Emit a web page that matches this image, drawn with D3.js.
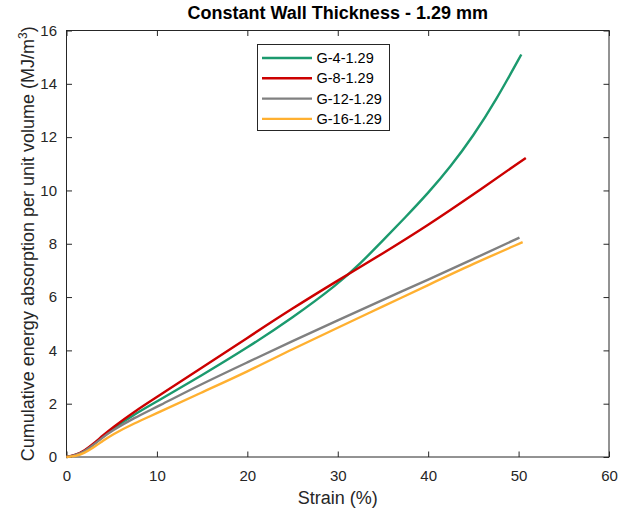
<!DOCTYPE html>
<html>
<head>
<meta charset="utf-8">
<script src="https://cdn.jsdelivr.net/npm/d3@7"></script>
<style>
  body { margin: 0; background: #fff; }
  text { font-family: "Liberation Sans", Arial, sans-serif; }
</style>
</head>
<body>
<div id="chart"></div>
<script>
// series names and colours
const seriesNames = ["G-4-1.29", "G-8-1.29", "G-12-1.29", "G-16-1.29"];
const seriesColors = ["#1b9a6e", "#cc0000", "#808080", "#ffb030"];

// [strain %, energy MJ/m^3]
const g4 = [[0,0],[1,0.06],[2,0.22],[3,0.48],[4,0.76],[5,1.03],[7.5,1.6],[10,2.08],[15,3.07],[20,4.1],[25,5.22],[30,6.48],[32.5,7.26],[35,8.12],[37.5,9.0],[40,9.9],[42.5,10.9],[45,12.05],[47.5,13.38],[50.3,15.1]];
const g8 = [[0,0],[1,0.07],[2,0.24],[3,0.5],[4,0.8],[5,1.08],[7.5,1.7],[10,2.25],[15,3.35],[20,4.47],[25,5.58],[30,6.62],[35,7.64],[40,8.7],[45,9.85],[50.8,11.22]];
const g12 = [[0,0],[1,0.06],[2,0.21],[3,0.46],[4,0.73],[5,0.98],[7.5,1.47],[10,1.88],[15,2.75],[20,3.55],[25,4.35],[30,5.13],[35,5.9],[40,6.65],[45,7.43],[50.1,8.23]];
const g16 = [[0,0],[1,0.03],[2,0.15],[3,0.36],[4,0.6],[5,0.83],[7.5,1.27],[10,1.64],[15,2.43],[20,3.2],[25,4.05],[30,4.85],[35,5.65],[40,6.45],[45,7.25],[50.45,8.06]];
const allSeries = [g4, g8, g12, g16];

const xTicks = [0, 10, 20, 30, 40, 50, 60];
const yTicks = [0, 2, 4, 6, 8, 10, 12, 14, 16];

const width = 618, height = 514;
const margin = { left: 66.5, right: 9, top: 30.5, bottom: 57 };

const svg = d3.select("#chart").append("svg")
  .attr("width", width).attr("height", height);

const x = d3.scaleLinear().domain([0, 60]).range([margin.left, width - margin.right]);
const y = d3.scaleLinear().domain([0, 16]).range([height - margin.bottom, margin.top]);

// frame
svg.append("rect")
  .attr("x", x(0)).attr("y", y(16))
  .attr("width", x(60) - x(0)).attr("height", y(0) - y(16))
  .attr("fill", "none").attr("stroke", "#262626").attr("stroke-width", 1);

const tickLen = 5.5;
// ticks point inward on all four sides
svg.append("g").attr("transform", `translate(0,${y(0)})`)
  .call(d3.axisBottom(x).tickValues(xTicks).tickSize(-tickLen).tickPadding(tickLen + 8));
svg.append("g").attr("transform", `translate(0,${y(16)})`)
  .call(d3.axisTop(x).tickValues(xTicks).tickSize(-tickLen).tickFormat(""));
svg.append("g").attr("transform", `translate(${x(0)},0)`)
  .call(d3.axisLeft(y).tickValues(yTicks).tickSize(-tickLen).tickPadding(tickLen + 4));
svg.append("g").attr("transform", `translate(${x(60)},0)`)
  .call(d3.axisRight(y).tickValues(yTicks).tickSize(-tickLen).tickFormat(""));

svg.selectAll(".domain").remove();
svg.selectAll(".tick line").attr("stroke", "#262626");
svg.selectAll(".tick text").attr("fill", "#262626").style("font-size", "15px")
  .style("font-family", "'Liberation Sans', Arial, sans-serif");

// lines
const line = d3.line().x(d => x(d[0])).y(d => y(d[1])).curve(d3.curveBasis);
svg.append("g").selectAll("path").data(allSeries).join("path")
  .attr("d", line)
  .attr("fill", "none")
  .attr("stroke", (d, i) => seriesColors[i])
  .attr("stroke-width", 2.4);

// title
svg.append("text")
  .attr("x", (x(0) + x(60)) / 2).attr("y", 19)
  .attr("text-anchor", "middle")
  .style("font-size", "18px").style("font-weight", "bold")
  .text("Constant Wall Thickness - 1.29 mm");

// axis labels
svg.append("text")
  .attr("x", (x(0) + x(60)) / 2).attr("y", 504)
  .attr("text-anchor", "middle").attr("fill", "#262626")
  .style("font-size", "18px")
  .text("Strain (%)");

const yl = svg.append("text")
  .attr("transform", `translate(34,${(y(0) + y(16)) / 2}) rotate(-90)`)
  .attr("text-anchor", "middle").attr("fill", "#262626")
  .style("font-size", "18px");
yl.append("tspan").text("Cumulative energy absorption per unit volume (MJ/m");
yl.append("tspan").attr("dy", -7).style("font-size", "12px").text("3");
yl.append("tspan").attr("dy", 7).text(")");

// legend
const legend = svg.append("g");
legend.append("rect")
  .attr("x", 257.5).attr("y", 44.5).attr("width", 132).attr("height", 86)
  .attr("fill", "#fff").attr("stroke", "#262626").attr("stroke-width", 1);
seriesNames.forEach((name, i) => {
  const ly = 58 + i * 20.3;
  legend.append("line")
    .attr("x1", 262).attr("x2", 312).attr("y1", ly).attr("y2", ly)
    .attr("stroke", seriesColors[i]).attr("stroke-width", 2.4);
  legend.append("text")
    .attr("x", 316.5).attr("y", ly + 5)
    .style("font-size", "14.5px").attr("fill", "#000")
    .text(name);
});
</script>
</body>
</html>
